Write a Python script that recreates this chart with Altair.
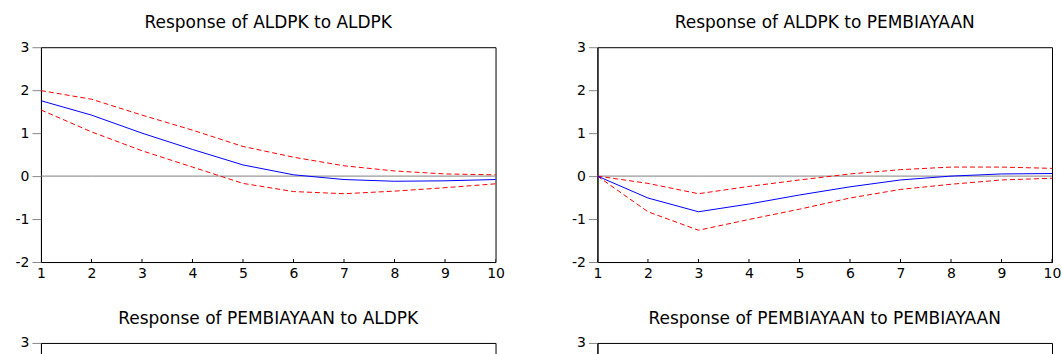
import altair as alt
import pandas as pd

steps = list(range(1, 11))
titles = [
    "Response of ALDPK to ALDPK",
    "Response of ALDPK to PEMBIAYAAN",
    "Response of PEMBIAYAAN to ALDPK",
    "Response of PEMBIAYAAN to PEMBIAYAAN",
]
y_ticks = [-2, -1, 0, 1, 2, 3]

# Response of ALDPK to ALDPK
aldpk_aldpk_resp = [1.755, 1.42, 1.0, 0.62, 0.26, 0.03, -0.08, -0.12, -0.11, -0.08]
aldpk_aldpk_upper = [1.99, 1.79, 1.42, 1.07, 0.69, 0.44, 0.24, 0.12, 0.05, 0.03]
aldpk_aldpk_lower = [1.54, 1.03, 0.59, 0.21, -0.17, -0.36, -0.41, -0.35, -0.27, -0.18]

# Response of ALDPK to PEMBIAYAAN
aldpk_pemb_resp = [0.0, -0.51, -0.83, -0.65, -0.44, -0.25, -0.09, 0.0, 0.05, 0.06]
aldpk_pemb_upper = [0.0, -0.17, -0.41, -0.24, -0.09, 0.05, 0.15, 0.21, 0.21, 0.18]
aldpk_pemb_lower = [0.0, -0.83, -1.26, -1.01, -0.77, -0.51, -0.31, -0.19, -0.09, -0.05]

FONT = "DejaVu Sans"
W, H = 455, 215


def panel(title, resp=None, upper=None, lower=None):
    # lower row is cropped in the reference: only the top of its frame shows
    cropped = resp is None
    xenc = alt.X(
        "step:Q",
        scale=alt.Scale(domain=[1, 10], nice=False, zero=False),
        axis=alt.Axis(values=steps, ticks=False, tickSize=0, labelPadding=4,
                      domainColor="black", grid=False, labelFont=FONT,
                      labelFontSize=14, labelColor="black", labelFlush=False,
                      labels=not cropped),
        title=None,
    )
    ylabel = "datum.value == 3 ? '3' : ''" if cropped else "'' + datum.value"
    yenc = alt.Y(
        "value:Q",
        scale=alt.Scale(domain=[-2, 3], nice=False, zero=False),
        axis=alt.Axis(values=y_ticks, tickSize=9, tickColor="#888888",
                      labelPadding=3, domainColor="black", grid=False,
                      labelFont=FONT, labelFontSize=14, labelColor="black",
                      labelFlush=False, labelExpr=ylabel),
        title=None,
    )
    zero_df = pd.DataFrame({"step": steps, "value": [0] * len(steps)})
    bottom_df = pd.DataFrame({"step": steps, "value": [-2] * len(steps)})
    layers = [
        alt.Chart(zero_df).mark_line(color="#808080", strokeWidth=1).encode(x=xenc, y=yenc),
        alt.Chart(bottom_df).mark_tick(orient="vertical", size=6, thickness=1,
                                       color="black", clip=True, opacity=1).encode(x=xenc, y=yenc),
    ]
    if resp is not None:
        for vals, color, dash in [(upper, "#ff0000", [5, 3]), (lower, "#ff0000", [5, 3]),
                                  (resp, "#0000ff", None)]:
            df = pd.DataFrame({"step": steps, "value": vals})
            kw = dict(color=color, strokeWidth=1)
            if dash:
                kw["strokeDash"] = dash
            layers.append(alt.Chart(df).mark_line(**kw).encode(x=xenc, y=yenc))
    return alt.layer(*layers).properties(
        width=W, height=H,
        title=alt.TitleParams(title, font=FONT, fontSize=17, fontWeight="normal",
                              color="black", anchor="middle", offset=8),
    )


p1 = panel(titles[0], aldpk_aldpk_resp, aldpk_aldpk_upper, aldpk_aldpk_lower)
p2 = panel(titles[1], aldpk_pemb_resp, aldpk_pemb_upper, aldpk_pemb_lower)
p3 = panel(titles[2])
p4 = panel(titles[3])

chart = alt.concat(
    p1, p2, p3, p4, columns=2, spacing={"row": 81, "column": 102}, bounds="flush"
).properties(
    padding={"left": 14, "top": 13, "right": 0, "bottom": 0}
).configure_view(stroke="black", strokeWidth=1)

chart.save("out.html", embed_options={"renderer": "svg", "actions": False})
